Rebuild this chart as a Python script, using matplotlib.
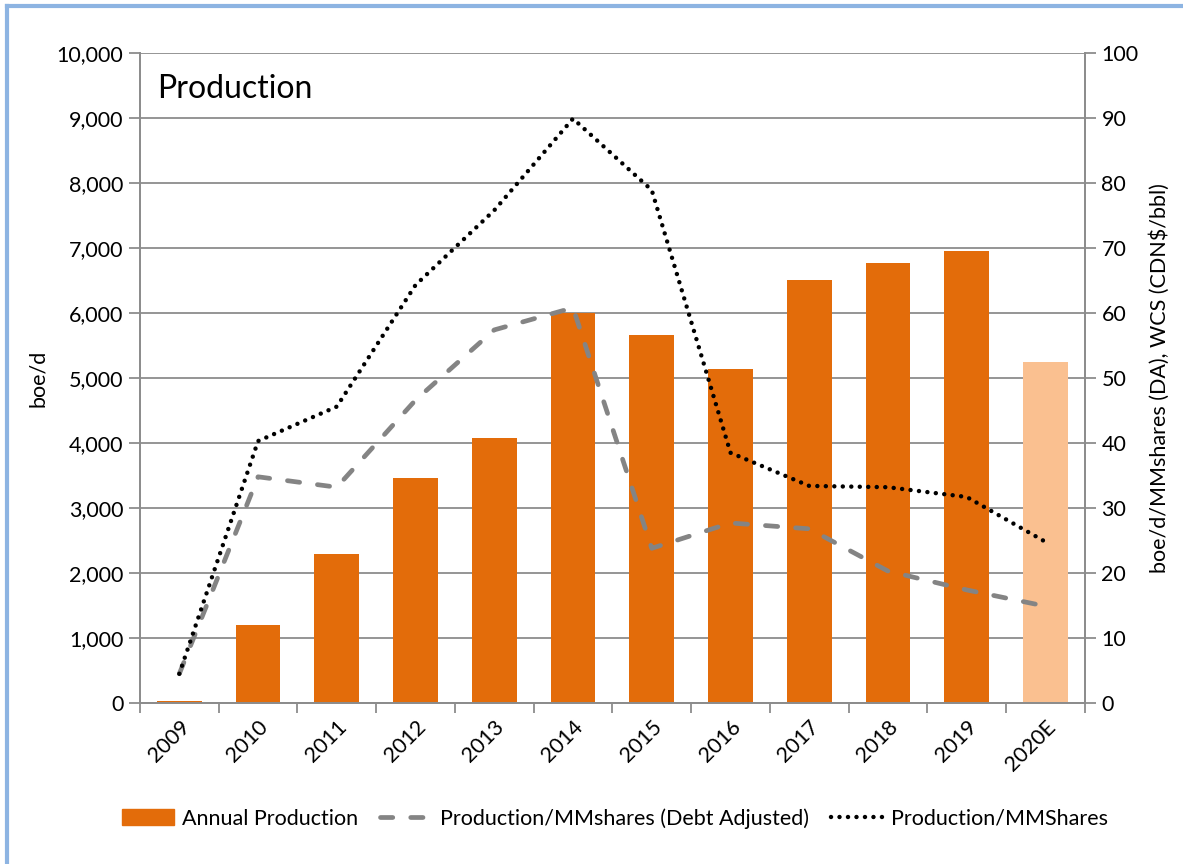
import matplotlib
matplotlib.use("Agg")
import matplotlib.pyplot as plt
from matplotlib.lines import Line2D
from matplotlib.patches import Patch
from matplotlib.ticker import FuncFormatter, FixedLocator
import numpy as np

plt.rcParams['font.family'] = ['Lato', 'DejaVu Sans']

years = ["2009", "2010", "2011", "2012", "2013", "2014", "2015", "2016", "2017", "2018", "2019", "2020E"]
annual_production = [30, 1200, 2290, 3460, 4070, 6000, 5660, 5140, 6500, 6770, 6950, 5250]
prod_per_share_da = [4.5, 34.8, 33.2, 46.6, 57.4, 60.8, 23.8, 27.7, 26.8, 20.3, 17.4, 14.9]
prod_per_share = [4.5, 40.3, 45.6, 64.3, 75.8, 89.9, 78.9, 38.5, 33.4, 33.2, 31.7, 24.8]

bar_colors = ["#E36C0A"] * 11 + ["#FAC090"]
grid_c = "#8C8C8C"
fs = 15.5

fig = plt.figure(figsize=(11.83, 8.64), dpi=100)
ax = fig.add_axes([0.1183, 0.1863, 0.7987, 0.7524])
ax2 = ax.twinx()

x = np.arange(len(years))
ax.bar(x, annual_production, width=0.57, color=bar_colors, zorder=2,
       label="Annual Production")
ax.set_xlim(-0.5, len(years) - 0.5)
ax.set_ylim(0, 10000)
ax.set_yticks(np.arange(0, 10001, 1000))
ax.yaxis.set_major_formatter(FuncFormatter(lambda v, p: f"{int(v):,}"))
ax.grid(axis='y', color=grid_c, linewidth=1.3, zorder=0)
ax.set_axisbelow(True)

ax.set_xticks(x)
ax.set_xticklabels(years, rotation=45, ha='right', rotation_mode='anchor', fontsize=fs)
ax.tick_params(axis='x', which='major', length=0, pad=10)
ax.xaxis.set_minor_locator(FixedLocator(np.arange(-0.5, len(years), 1.0)))
ax.tick_params(axis='x', which='minor', length=7, color=grid_c, width=1.3)
ax.tick_params(axis='y', length=8, color=grid_c, width=1.3, labelsize=fs, pad=4)
ax.set_ylabel("boe/d", fontsize=fs, labelpad=6)

l1, = ax2.plot(x, prod_per_share_da, color="#848484", linewidth=3.4,
               dashes=(2.6, 3.8), dash_capstyle='round', solid_joinstyle='round',
               label="Production/MMshares (Debt Adjusted)", zorder=3)
l2, = ax2.plot(x, prod_per_share, color="black", linewidth=3.2,
               linestyle=(0, (0.01, 1.9)), dash_capstyle='round',
               label="Production/MMShares", zorder=4)
ax2.set_ylim(0, 100)
ax2.set_yticks(np.arange(0, 101, 10))
ax2.tick_params(axis='y', length=8, color=grid_c, width=1.3, labelsize=fs, pad=4)
ax2.set_ylabel("boe/d/MMshares (DA), WCS (CDN$/bbl)", fontsize=fs, labelpad=8)

for a in (ax, ax2):
    for s in a.spines.values():
        s.set_color(grid_c)
        s.set_linewidth(1.3)
    a.spines['top'].set_visible(False)

ax.text(0.018, 0.968, "Production", transform=ax.transAxes, fontsize=23,
        va='top', ha='left')

handles = [Patch(color="#E36C0A", label="Annual Production"), l1, l2]
fig.legend(handles=handles, loc='center', bbox_to_anchor=(0.52, 0.053), ncol=3,
           frameon=False, fontsize=fs, handlelength=2.4, columnspacing=1.0,
           handletextpad=0.4)

# figure border (top and left)
fig.add_artist(Line2D([0.006, 0.006], [0, 0.993], transform=fig.transFigure,
                      color="#8DB4E2", linewidth=3))
fig.add_artist(Line2D([0.006, 1.0], [0.993, 0.993], transform=fig.transFigure,
                      color="#8DB4E2", linewidth=3))

fig.savefig("out.png", dpi=100)
